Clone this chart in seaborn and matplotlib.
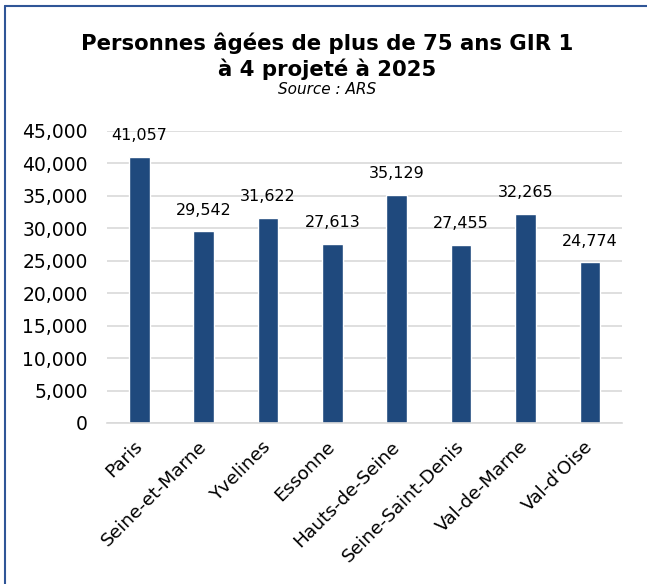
import matplotlib
matplotlib.use("Agg")
import matplotlib.pyplot as plt
import seaborn as sns
import pandas as pd
from matplotlib.lines import Line2D
from matplotlib.ticker import FuncFormatter

# data
departements = ["Paris", "Seine-et-Marne", "Yvelines", "Essonne",
                "Hauts-de-Seine", "Seine-Saint-Denis", "Val-de-Marne", "Val-d'Oise"]
effectifs = [41057, 29542, 31622, 27613, 35129, 27455, 32265, 24774]

df = pd.DataFrame({"dep": departements, "n": effectifs})

sns.set_style("white")
plt.rcParams["font.family"] = ["DejaVu Sans"]
plt.rcParams["text.color"] = "black"
plt.rcParams["xtick.color"] = "black"
plt.rcParams["ytick.color"] = "black"

fig = plt.figure(figsize=(6.47, 5.84), dpi=100)
ax = fig.add_axes([0.1654, 0.2757, 0.796, 0.5])

sns.barplot(data=df, x="dep", y="n", color="#1F497D", width=0.32,
            saturation=1, ax=ax)

ax.set_ylim(0, 45000)
ax.set_yticks(range(0, 45001, 5000))
ax.yaxis.set_major_formatter(FuncFormatter(lambda v, p: f"{int(v):,}"))
ax.grid(axis="y", color="#D9D9D9", lw=1.2)
ax.set_axisbelow(True)
for s in ["top", "right", "left"]:
    ax.spines[s].set_visible(False)
ax.spines["bottom"].set_color("#D9D9D9")
ax.spines["bottom"].set_linewidth(1.2)
ax.tick_params(length=0)
ax.tick_params(axis="y", labelsize=13.5, pad=14)
ax.tick_params(axis="x", labelsize=13.3, pad=15)
ax.set_xlabel("")
ax.set_ylabel("")
for lab in ax.get_xticklabels():
    lab.set_rotation(45)
    lab.set_ha("right")
    lab.set_va("center")
    lab.set_rotation_mode("anchor")

# value labels
for i, v in enumerate(effectifs):
    ax.text(i, v + 2100, f"{v:,}", ha="center", va="bottom", fontsize=11.5)

# titles
fig.text(0.505, 0.926, "Personnes âgées de plus de 75 ans GIR 1", ha="center",
         va="center", fontsize=15.3, fontweight="bold")
fig.text(0.505, 0.882, "à 4 projeté à 2025", ha="center",
         va="center", fontsize=15.3, fontweight="bold")
fig.text(0.505, 0.846, "Source : ARS", ha="center", va="center",
         fontsize=11, style="italic")

# frame lines (top and left)
fig.add_artist(Line2D([0.008, 0.008], [0, 0.99], transform=fig.transFigure,
                      color="#2F5597", lw=1.5))
fig.add_artist(Line2D([0.008, 1], [0.99, 0.99], transform=fig.transFigure,
                      color="#2F5597", lw=1.5))

fig.savefig("out.png", dpi=100)
